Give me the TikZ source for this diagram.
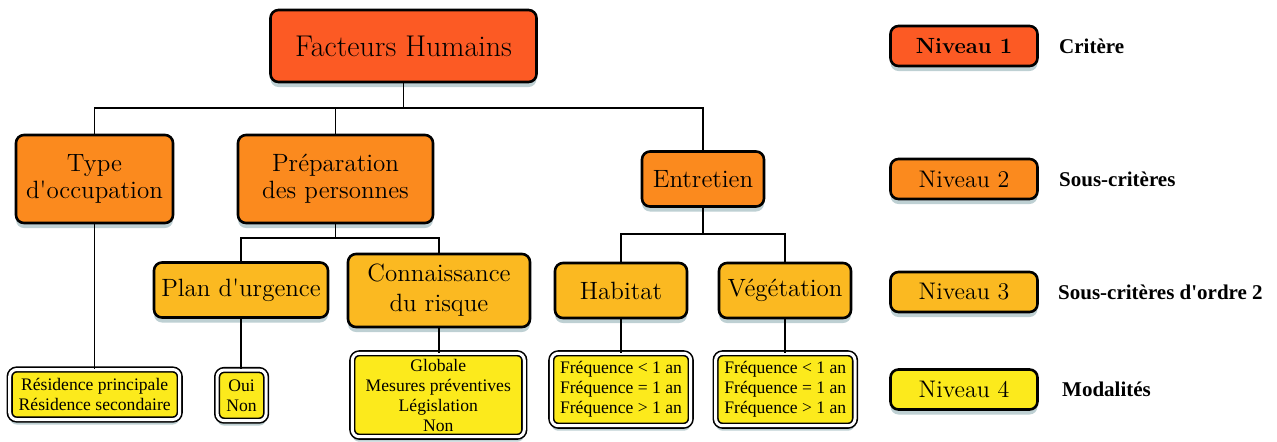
\documentclass[tikz,border=0pt]{standalone}
\usepackage{fontspec}
\usepackage{tikz}
\usetikzlibrary{positioning, shadows}
\newfontfamily\modfont{Liberation Serif}
\definecolor{niv1}{RGB}{252,90,36}
\definecolor{niv2}{RGB}{251,138,30}
\definecolor{niv3}{RGB}{251,185,33}
\definecolor{niv4}{RGB}{252,234,28}
\definecolor{ombre}{RGB}{110,150,158}
\newcommand{\apos}{\textquotesingle}

\begin{document}
\begin{tikzpicture}[
    x=0.5pt, y=-0.5pt,
    box/.style={draw, line width=1.3pt, rounded corners=4pt, inner sep=0pt, align=center,
                drop shadow={shadow xshift=0pt, shadow yshift=-2.5pt, fill=ombre, opacity=0.45}},
    niva/.style={box, fill=niv1},
    nivb/.style={box, fill=niv2, font=\fontsize{12.5}{13.5}\selectfont},
    nivc/.style={box, fill=niv3, font=\fontsize{12.5}{15}\selectfont},
    nivd/.style={box, fill=niv4, line width=0.8pt, double, double distance=1.5pt,
                 rounded corners=3.5pt, font=\modfont\fontsize{8.8}{10}\selectfont},
    lien/.style={line width=0.6pt},
    legbox/.style={minimum width=73.5pt, minimum height=20pt},
    legtext/.style={inner sep=0pt, font=\modfont\bfseries\fontsize{10.5}{12}\selectfont},
]
  \useasboundingbox (0,0) rectangle (1277,441);

  % niveau 1 et 2
  \node[niva, minimum width=133pt, minimum height=36pt,
        font=\fontsize{15}{18}\selectfont] (fh) at (403.5,46) {Facteurs Humains};
  \node[nivb, minimum width=78.5pt, minimum height=44pt] (type) at (94.5,179) {Type\\d\apos occupation};
  \node[nivb, minimum width=97.5pt, minimum height=44pt] (prep) at (335.5,179) {Préparation\\des personnes};
  \node[nivb, minimum width=61pt, minimum height=27.5pt] (entr) at (703,179) {Entretien};

  % niveau 3
  \node[nivc, minimum width=87pt, minimum height=27.5pt] (plan) at (241,290) {Plan d\apos urgence};
  \node[nivc, minimum width=91pt, minimum height=36.5pt] (conn) at (439,290.5) {Connaissance\\du risque};
  \node[nivc, minimum width=66pt, minimum height=27.5pt] (hab) at (621,290.5) {Habitat};
  \node[nivc, minimum width=66pt, minimum height=27.5pt] (veg) at (785,290.5) {Végétation};

  % niveau 4
  \node[nivd, minimum width=85pt, minimum height=25pt] (res) at (94.7,394.5)
       {Résidence principale\\Résidence secondaire};
  \node[nivd, minimum width=24.5pt, minimum height=25.3pt] (oui) at (241.6,395.3) {Oui\\Non};
  \node[nivd, minimum width=86pt, minimum height=41.7pt] (glob) at (438.3,395)
       {Globale\\Mesures préventives\\Législation\\Non};
  \node[nivd, minimum width=69.7pt, minimum height=36.2pt, align=left] (freqh) at (621,389.5)
       {Fréquence < 1 an\\Fréquence = 1 an\\Fréquence > 1 an};
  \node[nivd, minimum width=69.7pt, minimum height=36.2pt, align=left] (freqv) at (785.3,389.5)
       {Fréquence < 1 an\\Fréquence = 1 an\\Fréquence > 1 an};

  % liaisons
  \coordinate (bus1) at (403.5,108);
  \coordinate (bus2) at (335.5,238);
  \coordinate (bus3) at (703,234);
  \draw[lien] (fh.south) -- (bus1);
  \draw[lien] (type.north) |- (bus1) -| (entr.north);
  \draw[lien] (prep.north) -- (prep.north |- bus1);
  \draw[lien] (prep.south) -- (bus2);
  \draw[lien] (plan.north) |- (bus2) -| (conn.north);
  \draw[lien] (entr.south) -- (bus3);
  \draw[lien] (hab.north) |- (bus3) -| (veg.north);
  \draw[lien] (type.south) -- (type.south |- res.north);
  \draw[lien] (plan.south) -- (plan.south |- oui.north);
  \draw[lien] (conn.south) -- (conn.south |- glob.north);
  \draw[lien] (hab.south) -- (hab.south |- freqh.north);
  \draw[lien] (veg.south) -- (veg.south |- freqv.north);

  % legende
  \node[niva, legbox, font=\bfseries\fontsize{11}{13}\selectfont] (n1) at (964,46) {Niveau 1};
  \node[nivb, legbox, font=\fontsize{12}{14}\selectfont] (n2) at (964,179) {Niveau 2};
  \node[nivc, legbox, font=\fontsize{12}{14}\selectfont] (n3) at (964,292) {Niveau 3};
  \node[nivd, legbox, line width=1.3pt, draw=black, double=none, rounded corners=4pt,
        font=\fontsize{12}{14}\selectfont] (n4) at (964,389.5) {Niveau 4};
  \node[legtext, right=10pt of n1] (l1) {Critère};
  \node[legtext, right=10pt of n2] (l2) {Sous-critères};
  \node[legtext, right=9.5pt of n3] (l3) {Sous-critères d\apos ordre 2};
  \node[legtext, right=11.5pt of n4] (l4) {Modalités};
\end{tikzpicture}
\end{document}
